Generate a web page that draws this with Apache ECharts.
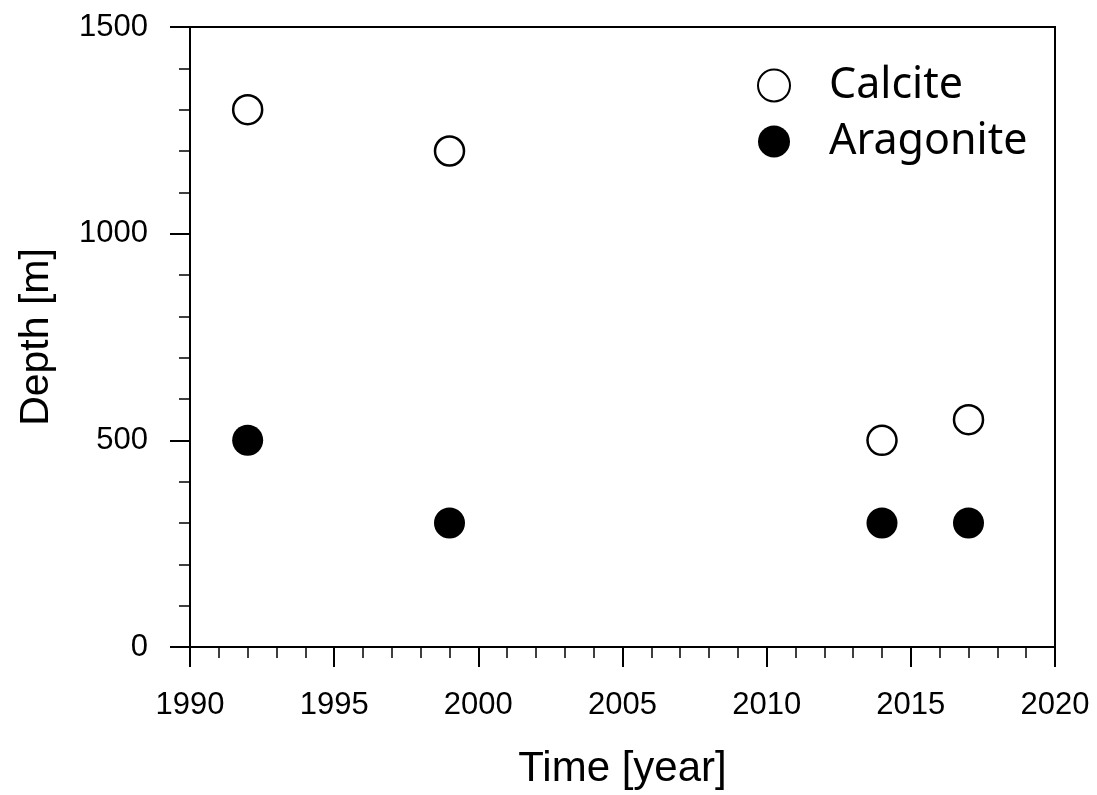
<!DOCTYPE html>
<html><head><meta charset="utf-8">
<script src="https://cdn.jsdelivr.net/npm/echarts@6/dist/echarts.min.js"></script>
<style>html,body{margin:0;padding:0;background:#fff}#c{width:1097px;height:795px}</style>
</head><body><div id="c"></div>
<script>
const years = [1992, 1999, 2014, 2017];
const calcite = [1300, 1200, 500, 550];
const aragonite = [500, 300, 300, 300];
const xTicks = [1990, 1995, 2000, 2005, 2010, 2015, 2020];
const yTicks = [0, 500, 1000, 1500];
const seriesNames = ['Calcite', 'Aragonite'];

const chart = echarts.init(document.getElementById('c'));
const labelFont = 'Liberation Sans';
const legendFont = 'Noto Sans';
chart.setOption({
  animation: false,
  grid: {left: 190, right: 42, top: 27, bottom: 148, outerBoundsMode: 'none', containLabel: false, show: true, borderColor: '#000', borderWidth: 2, backgroundColor: 'transparent'},
  legend: {
    orient: 'vertical', left: 752, top: 59, itemGap: 13,
    itemWidth: 32, itemHeight: 32, icon: 'circle',
    textStyle: {fontFamily: legendFont, fontSize: 43, color: '#000', padding: [0, 0, 0, 34]},
    data: seriesNames
  },
  xAxis: {
    type: 'value', min: xTicks[0], max: xTicks[xTicks.length-1], interval: 5,
    name: 'Time [year]', nameLocation: 'middle', nameGap: 101,
    nameTextStyle: {fontFamily: labelFont, fontSize: 42, color: '#000'},
    axisLine: {show: true, lineStyle: {color: '#000', width: 2}},
    axisTick: {show: true, inside: false, length: 20, lineStyle: {color: '#000', width: 2}},
    minorTick: {show: true, splitNumber: 5, length: 11, lineStyle: {color: '#000', width: 1.5}},
    splitLine: {show: false},
    axisLabel: {margin: 43, fontFamily: labelFont, fontSize: 31, color: '#000', formatter: v => String(v)}
  },
  yAxis: {
    type: 'value', min: yTicks[0], max: yTicks[yTicks.length-1], interval: 500,
    name: 'Depth [m]', nameLocation: 'middle', nameGap: 133,
    nameTextStyle: {fontFamily: labelFont, fontSize: 41, color: '#000'},
    axisLine: {show: true, lineStyle: {color: '#000', width: 2}},
    axisTick: {show: true, inside: false, length: 20, lineStyle: {color: '#000', width: 2}},
    minorTick: {show: true, splitNumber: 5, length: 11, lineStyle: {color: '#000', width: 1.5}},
    splitLine: {show: false},
    axisLabel: {margin: 42, fontFamily: labelFont, fontSize: 31, color: '#000', formatter: v => String(v)}
  },
  series: [
    {name: seriesNames[0], type: 'scatter', symbol: 'circle', symbolSize: 29,
     itemStyle: {color: '#fff', borderColor: '#000', borderWidth: 2.5, opacity: 1},
     data: years.map((y, i) => [y, calcite[i]])},
    {name: seriesNames[1], type: 'scatter', symbol: 'circle', symbolSize: 31,
     itemStyle: {color: '#000', borderColor: '#000', borderWidth: 0, opacity: 1},
     data: years.map((y, i) => [y, aragonite[i]])}
  ]
});
</script></body></html>
